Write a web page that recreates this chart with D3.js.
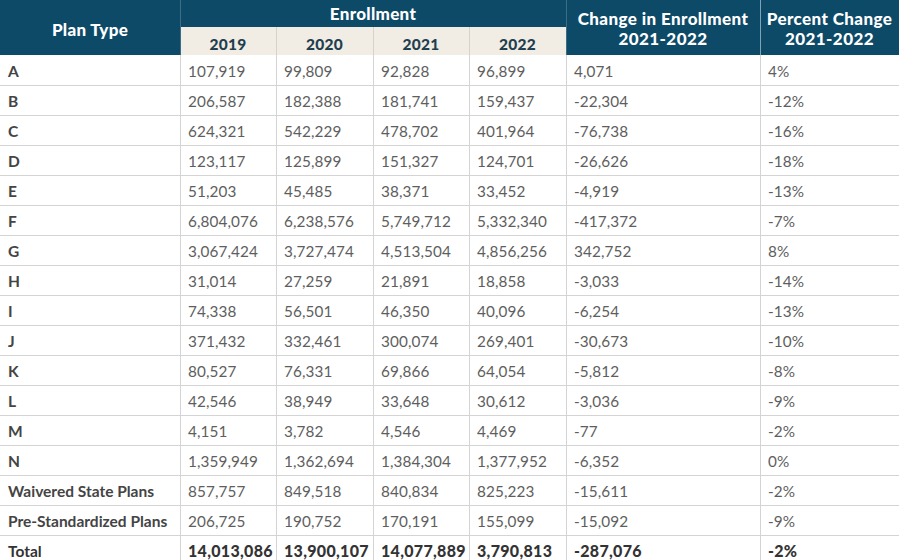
<!DOCTYPE html>
<html><head><meta charset="utf-8">
<script src="https://cdn.jsdelivr.net/npm/d3@7"></script>
<style>
html,body{margin:0;padding:0;background:#fff;overflow:hidden;}
svg{display:block;font-family:Lato,"Open Sans",sans-serif;}
</style></head>
<body><svg id="chart" width="899" height="560"></svg>
<script>
const planTypes = ["A","B","C","D","E","F","G","H","I","J","K","L","M","N","Waivered State Plans","Pre-Standardized Plans","Total"];
const years = ["2019","2020","2021","2022"];
const enr2019 = [107919,206587,624321,123117,51203,6804076,3067424,31014,74338,371432,80527,42546,4151,1359949,857757,206725,14013086];
const enr2020 = [99809,182388,542229,125899,45485,6238576,3727474,27259,56501,332461,76331,38949,3782,1362694,849518,190752,13900107];
const enr2021 = [92828,181741,478702,151327,38371,5749712,4513504,21891,46350,300074,69866,33648,4546,1384304,840834,170191,14077889];
const enr2022 = [96899,159437,401964,124701,33452,5332340,4856256,18858,40096,269401,64054,30612,4469,1377952,825223,155099,3790813];
const changeEnr = [4071,-22304,-76738,-26626,-4919,-417372,342752,-3033,-6254,-30673,-5812,-3036,-77,-6352,-15611,-15092,-287076];
const pctChange = [4,-12,-16,-18,-13,-7,8,-14,-13,-10,-8,-9,-2,0,-2,-9,-2];

const svg = d3.select("#chart");
const W = 899;
const dark = "#0d4a68", beige = "#f1ece4", grid = "#d4d4d4";
const colEdges = [0,180,276,373,469,566,760,899];
const headMid = 27, headBot = 55;
const y = d3.scaleBand().domain(d3.range(planTypes.length)).range([headBot, headBot + 30*planTypes.length]).padding(0);
const fmt = d3.formatLocale({decimal:".", thousands:",", grouping:[3], currency:["$",""], minus:"-"}).format(",");

svg.append("rect").attr("x",0).attr("y",0).attr("width",W).attr("height",headBot).attr("fill",dark);
years.forEach((yr,i)=>{
  svg.append("rect").attr("x",colEdges[i+1]).attr("y",headMid).attr("width",colEdges[i+2]-colEdges[i+1]).attr("height",headBot-headMid).attr("fill",beige);
});
[2,3,4].forEach(i=>svg.append("line").attr("x1",colEdges[i]+0.5).attr("x2",colEdges[i]+0.5).attr("y1",headMid).attr("y2",headBot).attr("stroke","#d8d2c8"));
svg.append("line").attr("x1",colEdges[6]+0.5).attr("x2",colEdges[6]+0.5).attr("y1",0).attr("y2",headBot).attr("stroke","#7fa3b6");
svg.append("line").attr("x1",colEdges[1]+0.5).attr("x2",colEdges[1]+0.5).attr("y1",0).attr("y2",headBot).attr("stroke","#3d6d85");
svg.append("line").attr("x1",colEdges[5]+0.5).attr("x2",colEdges[5]+0.5).attr("y1",0).attr("y2",headBot).attr("stroke","#3d6d85");

const headTxt = (x,yy,t,fill,size,ls)=>svg.append("text").attr("x",x).attr("y",yy).attr("text-anchor","middle").attr("fill",fill).attr("font-size",size).attr("font-weight",900).attr("letter-spacing",ls||0).text(t);
headTxt(90,36,"Plan Type","#fff",17,0.3);
headTxt((colEdges[1]+colEdges[5])/2,20,"Enrollment","#fff",17,0.3);
years.forEach((yr,i)=>headTxt((colEdges[i+1]+colEdges[i+2])/2,50,yr,"#1f3f50",15.5,0.3));
headTxt((colEdges[5]+colEdges[6])/2,25,"Change in Enrollment","#fff",17,0.4);
headTxt((colEdges[5]+colEdges[6])/2,45,"2021-2022","#fff",17,0.4);
headTxt((colEdges[6]+colEdges[7])/2,25,"Percent Change","#fff",17,0.4);
headTxt((colEdges[6]+colEdges[7])/2,45,"2021-2022","#fff",17,0.4);

const bodyBottom = y.range()[1];
d3.range(1,planTypes.length+1).forEach(i=>{
  const yy = headBot + 30*i;
  svg.append("line").attr("x1",0).attr("x2",W).attr("y1",yy+0.5).attr("y2",yy+0.5).attr("stroke",grid);
});
colEdges.slice(1,7).forEach(x=>svg.append("line").attr("x1",x+0.5).attr("x2",x+0.5).attr("y1",headBot).attr("y2",bodyBottom).attr("stroke",grid));

const cols = [enr2019,enr2020,enr2021,enr2022,changeEnr];
planTypes.forEach((p,i)=>{
  const isTotal = p==="Total";
  const cy = y(i) + y.bandwidth()/2 + 6.5;
  const g = svg.append("g");
  g.append("text").attr("x",8).attr("y",cy).attr("font-size",15.5).attr("font-weight","bold").attr("fill",isTotal?"#333":"#444").text(p);
  const bodyAttrs = sel=>sel.attr("y",cy).attr("font-size",isTotal?16:15.3)
      .attr("font-weight",isTotal?900:"normal").attr("letter-spacing",isTotal?0.3:0.1).attr("fill",isTotal?"#333":"#5e5e5e");
  cols.forEach((arr,c)=>{
    g.append("text").attr("x",colEdges[c+1]+8).call(bodyAttrs).text(fmt(arr[i]));
  });
  g.append("text").attr("x",colEdges[6]+8).call(bodyAttrs).text(pctChange[i]+"%");
});
</script></body></html>
